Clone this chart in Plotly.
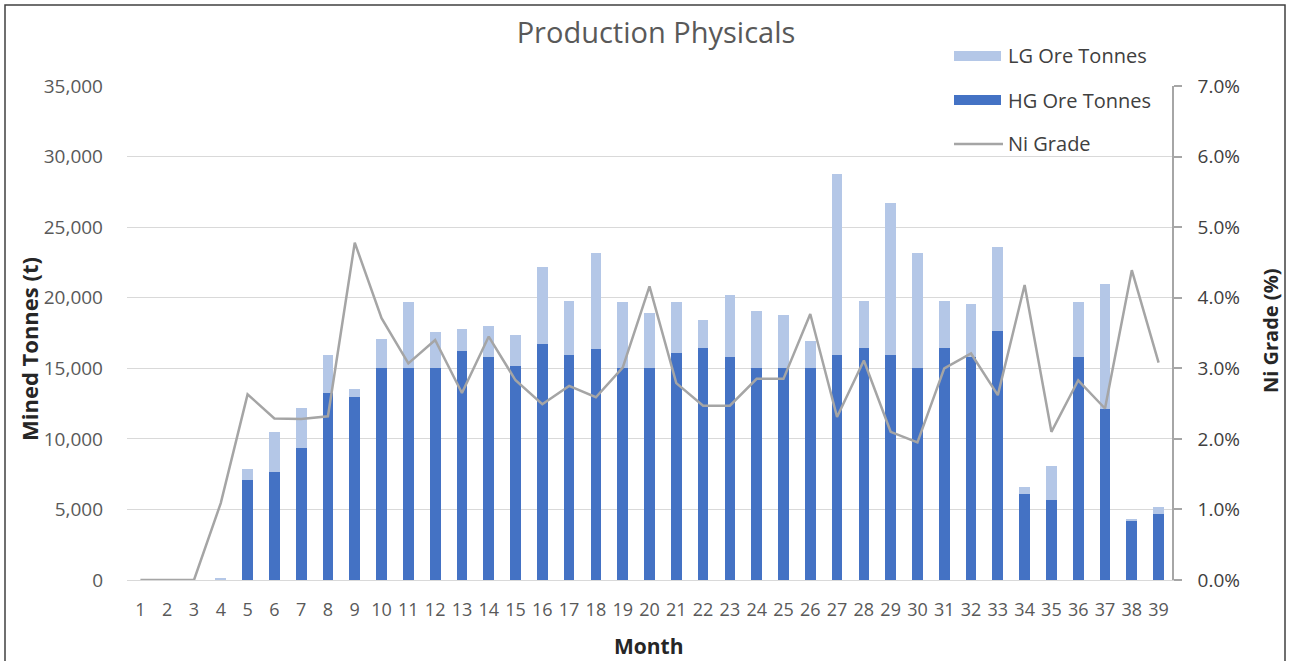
import plotly.graph_objects as go

months = list(range(1, 40))
hg_tonnes = [0, 0, 0, 0, 7100, 7650, 9350, 13250, 12950, 15000,
             15000, 15000, 16200, 15800, 15150, 16700, 15950, 16350, 15000, 15000,
             16050, 16450, 15800, 15000, 15000, 15000, 15950, 16450, 15950, 15000,
             16450, 15800, 17650, 6100, 5700, 15800, 12100, 4200, 4650]
lg_tonnes = [0, 0, 0, 150, 800, 2850, 2850, 2700, 550, 2100,
             4700, 2600, 1550, 2200, 2200, 5450, 3850, 6850, 4700, 3900,
             3650, 1950, 4400, 4050, 3800, 1950, 12850, 3350, 10750, 8200,
             3350, 3750, 5950, 500, 2350, 3900, 8900, 100, 500]
ni_grade_pct = [0, 0, 0, 1.09, 2.63, 2.29, 2.28, 2.32, 4.78, 3.71,
                3.07, 3.40, 2.65, 3.45, 2.83, 2.49, 2.75, 2.59, 3.01, 4.16,
                2.79, 2.47, 2.47, 2.85, 2.85, 3.77, 2.31, 3.11, 2.10, 1.95,
                3.00, 3.21, 2.62, 4.18, 2.10, 2.83, 2.43, 4.39, 3.08]
ni_grade = [v / 100 for v in ni_grade_pct]

HG_COLOR = "#4472C4"
LG_COLOR = "#B4C7E7"
LINE_COLOR = "#A5A5A5"
FONT = "Open Sans"
FIG_W, FIG_H = 1291, 661

fig = go.Figure()
fig.add_trace(go.Bar(x=months, y=hg_tonnes, name="HG Ore Tonnes",
                     marker=dict(color=HG_COLOR, line=dict(width=0)), showlegend=False))
fig.add_trace(go.Bar(x=months, y=lg_tonnes, name="LG Ore Tonnes",
                     marker=dict(color=LG_COLOR, line=dict(width=0)), showlegend=False))
fig.add_trace(go.Scatter(x=months, y=ni_grade, name="Ni Grade", mode="lines",
                         line=dict(color=LINE_COLOR, width=2.5), yaxis="y2",
                         showlegend=False))

# plot area geometry (pixels)
L, R, T, B = 127, 1172, 86, 580
W, H = R - L, B - T

def px(x):
    return (x - L) / W

def py(y):
    return (B - y) / H

shapes = [
    dict(type="rect", xref="paper", yref="paper", x0=px(5), x1=px(1285), y0=py(672), y1=py(5),
         line=dict(color="#404040", width=1.5), fillcolor="rgba(0,0,0,0)", layer="above"),
    dict(type="rect", xref="paper", yref="paper", x0=px(954), x1=px(1001), y0=py(61), y1=py(51),
         line=dict(width=0), fillcolor=LG_COLOR),
    dict(type="rect", xref="paper", yref="paper", x0=px(954), x1=px(1001), y0=py(105), y1=py(95),
         line=dict(width=0), fillcolor=HG_COLOR),
    dict(type="line", xref="paper", yref="paper", x0=px(954), x1=px(1003), y0=py(144), y1=py(144),
         line=dict(color=LINE_COLOR, width=2.5)),
]

def ann(text, x, y, size, color, angle=0, xanchor="left"):
    return dict(text=text, x=px(x), y=py(y), xref="paper", yref="paper",
                xanchor=xanchor, yanchor="middle", showarrow=False, textangle=angle,
                font=dict(family=FONT, size=size, color=color))

annotations = [
    ann("LG Ore Tonnes", 1006, 56, 20, "#404040"),
    ann("HG Ore Tonnes", 1006, 100, 20, "#404040"),
    ann("Ni Grade", 1006, 143, 20, "#404040"),
    ann("<b>Mined Tonnes (t)</b>", 29, 349, 22, "#262626", angle=-90, xanchor="center"),
    ann("<b>Ni Grade (%)</b>", 1270, 331, 20, "#262626", angle=-90, xanchor="center"),
    ann("<b>Month</b>", 649, 646, 21, "#262626", xanchor="center"),
]

fig.update_layout(
    width=FIG_W, height=FIG_H,
    margin=dict(l=L, r=FIG_W - R, t=T, b=FIG_H - B, pad=0),
    paper_bgcolor="white", plot_bgcolor="white",
    barmode="stack", bargap=0.6,
    title=dict(text="Production Physicals", x=656 / FIG_W, xanchor="center",
               y=1 - 33 / FIG_H, yanchor="middle",
               font=dict(family=FONT, size=29, color="#595959")),
    font=dict(family=FONT, size=18, color="#595959"),
    xaxis=dict(tickmode="linear", tick0=1, dtick=1, range=[0.5, 39.5],
               showline=True, linecolor="#D9D9D9", linewidth=1, showgrid=False, zeroline=False,
               ticks="", ticklabelstandoff=13, tickfont=dict(family=FONT, size=18, color="#595959")),
    yaxis=dict(range=[0, 35000], dtick=5000, tickformat=",", showgrid=True,
               gridcolor="#D9D9D9", gridwidth=1, zeroline=False, showline=False,
               ticks="", ticklabelstandoff=23, tickfont=dict(family=FONT, size=19, color="#595959")),
    yaxis2=dict(range=[0, 0.07], dtick=0.01, tickformat=".1%", overlaying="y", side="right",
                showgrid=False, zeroline=False, showline=True, linecolor="#A6A6A6", linewidth=1.5,
                ticks="outside", ticklen=8, tickcolor="#A6A6A6", tickwidth=1.5,
                ticklabelstandoff=12, tickfont=dict(family=FONT, size=19, color="#404040")),
    shapes=shapes,
    annotations=annotations,
)

fig.write_html("out.html", config={"displayModeBar": False},
               post_script="document.body.style.margin='0px';")
